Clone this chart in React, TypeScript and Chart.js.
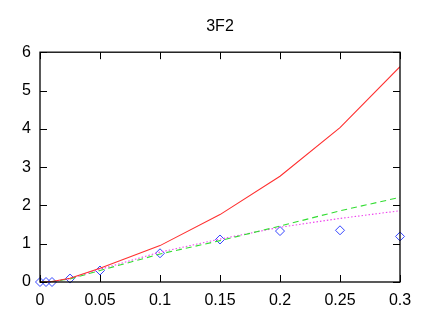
import React, { useEffect, useRef } from "react";
import { Chart, registerables } from "chart.js";

Chart.register(...registerables);

const xValues = [0, 0.005, 0.01, 0.025, 0.05, 0.1, 0.15, 0.2, 0.25, 0.3];
const redSeries = [0, 0.003, 0.015, 0.1, 0.36, 0.95, 1.76, 2.76, 4.03, 5.62];
const greenSeries = [0, 0.002, 0.01, 0.08, 0.3, 0.73, 1.08, 1.46, 1.86, 2.21];
const magentaSeries = [0, 0.002, 0.012, 0.085, 0.33, 0.78, 1.12, 1.43, 1.66, 1.86];
const blueSeries = [0, 0, 0, 0.09, 0.3, 0.75, 1.11, 1.33, 1.35, 1.19];
const xTicks = [0, 0.05, 0.1, 0.15, 0.2, 0.25, 0.3];
const yTicks = [0, 1, 2, 3, 4, 5, 6];
const titleText = "3F2";

const pts = (ys: number[]) => xValues.map((x, i) => ({ x, y: ys[i] }));

const framePlugin = {
  id: "frame",
  afterDatasetsDraw(chart: any) {
    const { ctx, chartArea: a, scales } = chart;
    ctx.save();
    ctx.strokeStyle = "#000";
    ctx.lineWidth = 1;
    const L = 7;
    ctx.beginPath();
    xTicks.forEach((t) => {
      const px = Math.round(scales.x.getPixelForValue(t)) + 0.5;
      ctx.moveTo(px, a.bottom);
      ctx.lineTo(px, a.bottom - L);
      ctx.moveTo(px, a.top);
      ctx.lineTo(px, a.top + L);
    });
    yTicks.forEach((t) => {
      const py = Math.round(scales.y.getPixelForValue(t)) + 0.5;
      ctx.moveTo(a.left, py);
      ctx.lineTo(a.left + L, py);
      ctx.moveTo(a.right, py);
      ctx.lineTo(a.right - L, py);
    });
    ctx.stroke();
    ctx.lineWidth = 1.3;
    ctx.strokeRect(a.left, a.top, a.right - a.left, a.bottom - a.top);
    ctx.restore();
  },
};

export default function App() {
  const ref = useRef<HTMLCanvasElement>(null);
  useEffect(() => {
    if (!ref.current) return;
    const font = { family: "'Liberation Sans', Arial, sans-serif", size: 16 };
    const chart = new Chart(ref.current, {
      type: "scatter",
      data: {
        datasets: [
          {
            data: pts(redSeries),
            showLine: true,
            borderColor: "#ff3030",
            borderWidth: 1.1,
            pointRadius: 0,
          },
          {
            data: pts(greenSeries),
            showLine: true,
            borderColor: "#33dd33",
            borderWidth: 1.1,
            borderDash: [6, 4],
            pointRadius: 0,
          },
          {
            data: pts(magentaSeries),
            showLine: true,
            borderColor: "#ee44ee",
            borderWidth: 1.1,
            borderDash: [1.5, 2],
            pointRadius: 0,
          },
          {
            data: pts(blueSeries),
            showLine: false,
            clip: false,
            pointStyle: "rectRot",
            pointRadius: 4.5,
            pointBorderColor: "#3344ff",
            pointBackgroundColor: "rgba(0,0,0,0)",
            pointBorderWidth: 1,
          },
        ],
      },
      options: {
        animation: false,
        responsive: false,
        layout: { padding: { right: 29, top: 0, left: 0, bottom: 0 } },
        plugins: {
          legend: { display: false },
          tooltip: { enabled: false },
          title: {
            display: true,
            text: titleText,
            fullSize: false,
            color: "#000",
            font: { family: "'Liberation Sans', Arial, sans-serif", size: 16, weight: "normal" },
            padding: { top: 17, bottom: 16 },
          },
        },
        scales: {
          x: {
            type: "linear",
            min: 0,
            max: 0.3,
            afterBuildTicks: (s: any) => {
              s.ticks = xTicks.map((v) => ({ value: v }));
            },
            afterFit: (s: any) => {
              s.height = 35;
            },
            grid: { display: false, drawTicks: false },
            border: { display: false },
            ticks: {
              color: "#000",
              font,
              padding: 9,
              maxRotation: 0,
              autoSkip: false,
              callback: (v: any) => String(Number(Number(v).toFixed(2))),
            },
          },
          y: {
            type: "linear",
            min: 0,
            max: 6,
            afterBuildTicks: (s: any) => {
              s.ticks = yTicks.map((v) => ({ value: v }));
            },
            afterFit: (s: any) => {
              s.width = 40;
            },
            grid: { display: false, drawTicks: false },
            border: { display: false },
            ticks: {
              color: "#000",
              font,
              padding: 9,
              callback: (v: any) => String(v),
            },
          },
        },
      },
      plugins: [framePlugin],
    });
    return () => chart.destroy();
  }, []);
  return (
    <div style={{ position: "fixed", left: 0, top: 0, width: 429, height: 317, background: "#fff" }}>
      <canvas ref={ref} width={429} height={317} style={{ width: 429, height: 317 }} />
    </div>
  );
}
